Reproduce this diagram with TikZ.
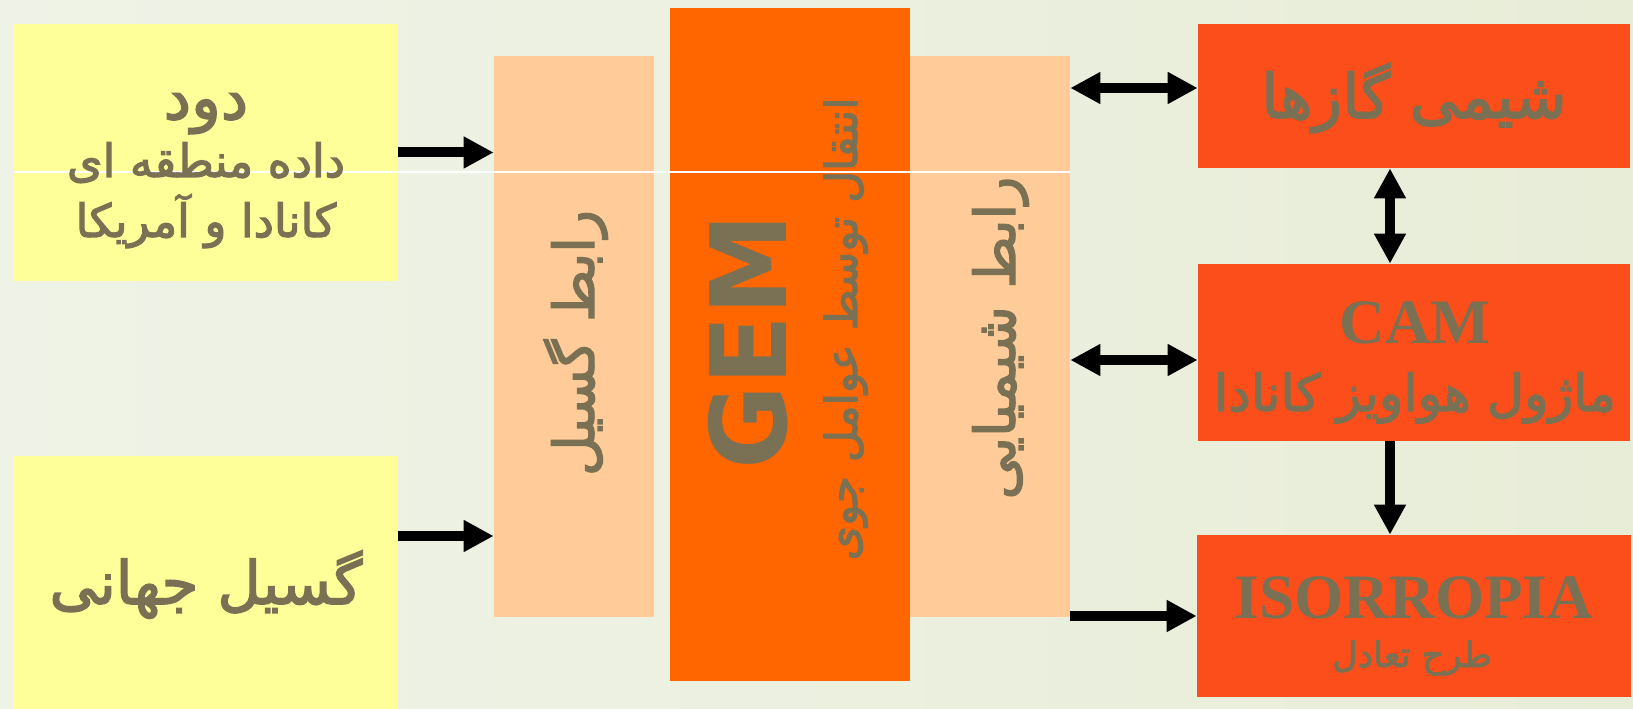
\documentclass[tikz,border=0pt]{standalone}
\usepackage{fontspec}
\setmainfont{Liberation Serif}
\newfontfamily\fa[Script=Arabic, FakeBold=2.5]{DejaVu Sans}
\newfontfamily\gemfont[FakeStretch=0.97]{DejaVu Sans}
\TeXXeTstate=1
\usetikzlibrary{arrows.meta,positioning}
\definecolor{bgleft}{RGB}{239,243,231}
\definecolor{bgmid}{RGB}{251,252,248}
\definecolor{bgright}{RGB}{232,237,216}
\definecolor{txt}{RGB}{122,112,84}
\definecolor{yel}{RGB}{255,255,153}
\definecolor{peach}{RGB}{255,204,153}
\definecolor{gemor}{RGB}{255,102,0}
\definecolor{redor}{RGB}{252,78,26}
\newcommand\fatext[1]{{\fa\beginR #1\endR}}
\newcommand\fs[1]{\fontsize{#1}{1.2\dimexpr#1pt\relax}\selectfont}
\tikzset{
  box/.style={rectangle, inner sep=0pt, draw=none},
  lbl/.style={text=txt, inner sep=0pt, anchor=base},
  arr/.style={line width=0.2cm, -{Triangle[length=0.6cm,width=0.6cm]}},
  darr/.style={line width=0.2cm, {Triangle[length=0.6cm,width=0.6cm]}-{Triangle[length=0.6cm,width=0.6cm]}},
}
\begin{document}
\begin{tikzpicture}[x=0.02cm,y=-0.02cm]
  \useasboundingbox (0,0) rectangle (1633,709);
  \shade[left color=bgleft, middle color=bgmid, right color=bgright] (0,0) rectangle (1633,709);

  % input boxes
  \node[box, fill=yel, minimum width=7.68cm, minimum height=5.14cm] (dud) at (206,152.5) {};
  \node[box, fill=yel, minimum width=7.68cm, minimum height=5.28cm] (gsl) at (206,588) {};

  % interfaces and GEM
  \node[box, fill=peach, minimum width=3.2cm, minimum height=11.22cm] (rgs) at (574,336.5) {};
  \node[box, fill=gemor, minimum width=4.8cm, minimum height=13.46cm] (gem) at (790,344.5) {};
  \node[box, fill=peach, minimum width=3.2cm, minimum height=11.22cm] (rsh) at (990,336.5) {};
  \draw[white, line width=0.6pt] (dud.west |- 0,172) -- (rsh.east |- 0,172);

  % chemistry modules
  \node[box, fill=redor, minimum width=8.64cm, minimum height=2.88cm] (shg) at (1414,96) {};
  \node[box, fill=redor, minimum width=8.64cm, minimum height=3.54cm] (cam) at (1414,352.5) {};
  \node[box, fill=redor, minimum width=8.68cm, minimum height=3.24cm] (iso) at (1414,616) {};

  % texts
  \node[lbl] (dudA) at (206,119) {\fs{35}\fatext{دود}};
  \node[lbl] (dudB) at (206,177) {\fs{26}\fatext{داده منطقه ای}};
  \node[lbl] (dudC) at (206,237) {\fs{26}\fatext{کانادا و آمریکا}};
  \node[lbl] (gslA) at (206,604) {\fs{34}\fatext{گسیل جهانی}};
  \node[lbl, rotate=90] (rgsA) at (594,343) {\fs{32}\fatext{رابط گسیل}};
  \node[lbl, rotate=90] (gemA) at (786,342) {\fs{60}\gemfont\bfseries GEM};
  \node[lbl, rotate=90] (gemB) at (857,329) {\fs{25}\fatext{انتقال توسط عوامل جوی}};
  \node[lbl, rotate=90] (rshA) at (1015,338) {\fs{32}\fatext{رابط شیمیایی}};
  \node[lbl] (shgA) at (1414,118) {\fs{35}\fatext{شیمی گازها}};
  \node[lbl] (camA) at (1415,344) {\fs{36}\bfseries CAM};
  \node[lbl] (camB) at (1415,411) {\fs{29}\fatext{ماژول هواویز کانادا}};
  \node[lbl] (isoA) at (1414,618) {\fs{36}\bfseries ISORROPIA};
  \node[lbl] (isoB) at (1412,667) {\fs{20}\fatext{طرح تعادل}};

  % connectors
  \coordinate (ya) at (0,536);
  \coordinate (yb) at (0,88);
  \coordinate (yc) at (0,360);
  \coordinate (xa) at (1390,0);
  \draw[arr] (dud.east) -- (dud.east -| rgs.west);
  \draw[arr] (gsl.east |- ya) -- (rgs.west |- ya);
  \draw[darr] (rsh.east |- yb) -- (shg.west |- yb);
  \draw[darr] (rsh.east |- yc) -- (cam.west |- yc);
  \draw[arr] (rsh.east |- iso.west) -- (iso.west);
  \draw[darr] (shg.south -| xa) -- (cam.north -| xa);
  \draw[arr] (cam.south -| xa) -- (iso.north -| xa);
\end{tikzpicture}
\end{document}
